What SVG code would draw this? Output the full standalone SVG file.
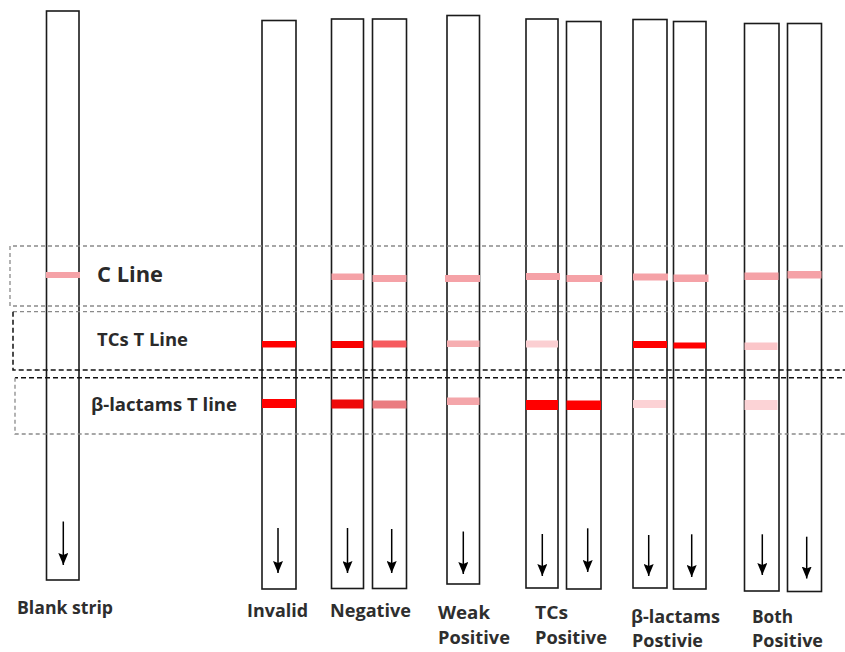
<svg xmlns="http://www.w3.org/2000/svg" width="845" height="652" viewBox="0 0 845 652">
<style>
.strip{fill:#fff;stroke:#1a1a1a;stroke-width:1.6}
.lbl{font-family:"Open Sans","DejaVu Sans",sans-serif;font-weight:700;font-size:17px;fill:#2e2e2e}
.zone{font-family:"Open Sans","DejaVu Sans",sans-serif;font-weight:700;fill:#2a2a2a}
.dg{fill:none;stroke:#8a8a8a;stroke-width:1.3;stroke-dasharray:4 3}
.dk{fill:none;stroke:#111;stroke-width:1.5;stroke-dasharray:5 3}
.arr{stroke:#000;stroke-width:1.5;marker-end:url(#ah)}
.c{fill:#f5a2a7}
.red{fill:#ff0000}
</style>
<defs>
<marker id="ah" viewBox="0 0 12 10" refX="12" refY="5" markerWidth="12" markerHeight="10" markerUnits="userSpaceOnUse" orient="auto">
<path d="M0,0 L12,5 L0,10 L2,5 z" fill="#000"/>
</marker>
</defs>
<rect width="845" height="652" fill="#fff"/>

<g id="strips">
<g id="blank"><rect class="strip" x="46.5" y="11" width="32.5" height="569"/>
<rect class="c" x="46" y="272" width="34" height="6"/></g>
<g id="invalid"><rect class="strip" x="262" y="20.5" width="34" height="568.5"/>
<rect class="red" x="262" y="341" width="34" height="6.5"/>
<rect class="red" x="262" y="399" width="34" height="9"/></g>
<g id="negative1"><rect class="strip" x="331.5" y="19" width="32" height="569.5"/>
<rect class="c" x="331.5" y="273.5" width="32" height="6.5"/>
<rect fill="#f90000" x="331.5" y="341" width="32" height="7"/>
<rect fill="#ee0a0a" x="331.5" y="399.5" width="32" height="9"/></g>
<g id="negative2"><rect class="strip" x="372.5" y="19" width="34" height="569.5"/>
<rect class="c" x="372.5" y="275" width="34" height="7"/>
<rect fill="#f65a5e" x="372.5" y="340.5" width="34" height="7"/>
<rect fill="#ea7c80" x="372.5" y="400.5" width="34" height="8"/></g>
<g id="weak"><rect class="strip" x="447" y="15.5" width="32.5" height="568.5"/>
<rect class="c" x="445" y="275" width="35" height="7"/>
<rect fill="#f6aeb1" x="447" y="340.5" width="32.5" height="6.5"/>
<rect fill="#f4a6aa" x="447" y="397.5" width="32.5" height="7.5"/></g>
<g id="tcs1"><rect class="strip" x="526" y="19" width="32" height="569"/>
<rect class="c" x="526" y="273" width="34" height="7"/>
<rect fill="#fbcfd2" x="526" y="340.5" width="32" height="7"/>
<rect class="red" x="526" y="400" width="32" height="10"/></g>
<g id="tcs2"><rect class="strip" x="566.5" y="21.5" width="34.5" height="567.5"/>
<rect class="c" x="566.5" y="275" width="36" height="7"/>
<rect class="red" x="566.5" y="400.5" width="34.5" height="9.5"/></g>
<g id="beta1"><rect class="strip" x="633" y="19.5" width="34" height="568.5"/>
<rect class="c" x="633" y="273.5" width="35" height="7"/>
<rect class="red" x="633" y="341" width="34" height="7"/>
<rect fill="#fcd2d5" x="633" y="400" width="33" height="8"/></g>
<g id="beta2"><rect class="strip" x="673.5" y="21.5" width="32.5" height="567.5"/>
<rect class="c" x="673.5" y="274.5" width="35" height="7.5"/>
<rect class="red" x="673.5" y="342.5" width="32.5" height="6"/></g>
<g id="both1"><rect class="strip" x="744.5" y="23.5" width="34.5" height="567.5"/>
<rect class="c" x="744.5" y="272.5" width="34" height="7.5"/>
<rect fill="#fbc6c9" x="744.5" y="342.5" width="33" height="7.5"/>
<rect fill="#fcd3d6" x="744.5" y="400" width="33" height="10"/></g>
<g id="both2"><rect class="strip" x="787.5" y="23.5" width="34" height="568"/>
<rect class="c" x="787.5" y="271" width="34" height="7.5"/></g>
</g>

<g id="zones">
<path class="dg" d="M850,246 H10 V306 H850"/>
<path class="dg" d="M850,311.7 H13"/>
<path class="dk" d="M13,311.7 V370 H850"/>
<path class="dk" d="M850,377.7 H15"/>
<path class="dg" d="M15,377.7 V434 H850"/>
<text class="zone" x="97" y="282" font-size="21" textLength="66" lengthAdjust="spacingAndGlyphs">C Line</text>
<text class="zone" x="97" y="346" font-size="17" textLength="91" lengthAdjust="spacingAndGlyphs">TCs T Line</text>
<text class="zone" x="91" y="411" font-size="17" textLength="146" lengthAdjust="spacingAndGlyphs">β-lactams T line</text>
</g>

<g id="connectors">
<line class="arr" x1="63.3" y1="521.5" x2="63.3" y2="565"/>
<line class="arr" x1="278" y1="528" x2="278" y2="573"/>
<line class="arr" x1="347.5" y1="528" x2="347.5" y2="573"/>
<line class="arr" x1="391.7" y1="529" x2="391.7" y2="573"/>
<line class="arr" x1="463.3" y1="531.5" x2="463.3" y2="574"/>
<line class="arr" x1="542.3" y1="534" x2="542.3" y2="576"/>
<line class="arr" x1="587.7" y1="528.3" x2="587.7" y2="572"/>
<line class="arr" x1="648.7" y1="535" x2="648.7" y2="576"/>
<line class="arr" x1="691.7" y1="534.3" x2="691.7" y2="577"/>
<line class="arr" x1="762.3" y1="534.3" x2="762.3" y2="575"/>
<line class="arr" x1="806.7" y1="536.7" x2="806.7" y2="578.5"/>
</g>

<g id="labels">
<text class="lbl" x="17" y="614" textLength="96" lengthAdjust="spacingAndGlyphs">Blank strip</text>
<text class="lbl" x="247" y="617" textLength="61" lengthAdjust="spacingAndGlyphs">Invalid</text>
<text class="lbl" x="330" y="617" textLength="81" lengthAdjust="spacingAndGlyphs">Negative</text>
<text class="lbl" x="438" y="619" textLength="52" lengthAdjust="spacingAndGlyphs">Weak</text>
<text class="lbl" x="438" y="644" textLength="72" lengthAdjust="spacingAndGlyphs">Positive</text>
<text class="lbl" x="535" y="619" textLength="33" lengthAdjust="spacingAndGlyphs">TCs</text>
<text class="lbl" x="535" y="644" textLength="72" lengthAdjust="spacingAndGlyphs">Positive</text>
<text class="lbl" x="631" y="623" textLength="89" lengthAdjust="spacingAndGlyphs">β-lactams</text>
<text class="lbl" x="632" y="647" textLength="71" lengthAdjust="spacingAndGlyphs">Postivie</text>
<text class="lbl" x="752" y="623" textLength="41" lengthAdjust="spacingAndGlyphs">Both</text>
<text class="lbl" x="752" y="647" textLength="71" lengthAdjust="spacingAndGlyphs">Positive</text>
</g>
</svg>
